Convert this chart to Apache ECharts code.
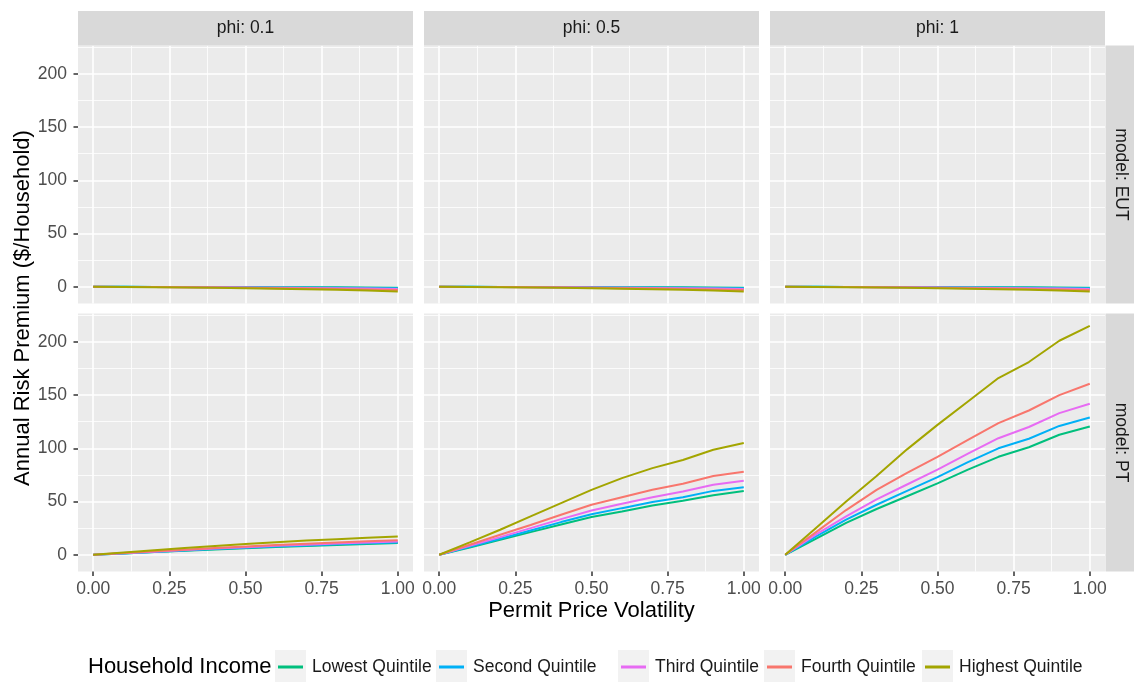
<!DOCTYPE html>
<html>
<head>
<meta charset="utf-8">
<script src="https://cdn.jsdelivr.net/npm/echarts@6/dist/echarts.min.js"></script>
<style>
html,body{margin:0;padding:0;background:#fff;}
#chart{width:1134px;height:682px;}
</style>
</head>
<body>
<div id="chart"></div>
<script>
// ---------------- data ----------------
const xVals = [0, 0.1, 0.2, 0.3, 0.4, 0.5, 0.6, 0.7, 0.8, 0.9, 1.0];
const quintiles = ['Lowest Quintile', 'Second Quintile', 'Third Quintile', 'Fourth Quintile', 'Highest Quintile'];
const phiLabels = ['phi: 0.1', 'phi: 0.5', 'phi: 1'];
const modelLabels = ['model: EUT', 'model: PT'];
const xTickValues = [0, 0.25, 0.5, 0.75, 1];
const xMinorValues = [0.125, 0.375, 0.625, 0.875];
const yTickValues = [0, 50, 100, 150, 200];
const yMinorValues = [25, 75, 125, 175, 225];

// EUT (same for all phi)
const eutLowest  = [0, -0.05, -0.1, -0.15, -0.2, -0.3, -0.35, -0.45, -0.55, -0.65, -0.8];
const eutSecond  = [0, -0.05, -0.15, -0.25, -0.35, -0.45, -0.6, -0.75, -0.9, -1.1, -1.3];
const eutThird   = [0, -0.1, -0.2, -0.35, -0.5, -0.65, -0.85, -1.1, -1.35, -1.65, -2.0];
const eutFourth  = [0, -0.15, -0.3, -0.5, -0.7, -1.0, -1.3, -1.6, -2.0, -2.5, -3.0];
const eutHighest = [0, -0.2, -0.4, -0.7, -1.0, -1.4, -1.8, -2.3, -2.9, -3.6, -4.5];

// PT, phi = 0.1
const ptPhi01Lowest  = [0, 1.2, 2.5, 3.8, 5.0, 6.2, 7.3, 8.3, 9.3, 10.2, 11.0];
const ptPhi01Second  = [0, 1.3, 2.7, 4.1, 5.4, 6.6, 7.8, 8.8, 9.8, 10.8, 11.6];
const ptPhi01Third   = [0, 1.4, 2.9, 4.4, 5.8, 7.1, 8.4, 9.5, 10.6, 11.6, 12.5];
const ptPhi01Fourth  = [0, 1.6, 3.2, 4.8, 6.3, 7.8, 9.1, 10.3, 11.5, 12.6, 13.7];
const ptPhi01Highest = [0, 2.1, 4.2, 6.3, 8.3, 10.2, 11.8, 13.3, 14.6, 15.9, 17.2];

// PT, phi = 0.5
const ptPhi05Lowest  = [0, 6.9, 14, 21.3, 28.5, 35.4, 40.7, 46.3, 50.7, 56, 60];
const ptPhi05Second  = [0, 7.5, 15, 22.8, 30.7, 38, 43.8, 49.5, 54, 60, 63.5];
const ptPhi05Third   = [0, 8.4, 16.6, 25, 33.5, 41.6, 48, 54, 59.5, 65.7, 69.5];
const ptPhi05Fourth  = [0, 9.4, 18.8, 28, 37.6, 47, 54, 61, 66.7, 74, 78];
const ptPhi05Highest = [0, 11.6, 23.5, 36, 48.5, 61, 72, 81.4, 89, 98.6, 104.9];

// PT, phi = 1
const ptPhi1Lowest  = [0, 15, 30, 43, 55, 67, 80, 92, 101, 112.7, 120.5];
const ptPhi1Second  = [0, 17, 33, 47, 60, 73, 87, 100, 109, 121, 129];
const ptPhi1Third   = [0, 19, 36, 52, 66, 80, 95, 109.5, 120, 133, 141.8];
const ptPhi1Fourth  = [0, 21, 42, 61, 77, 92, 108, 123.6, 135.5, 150, 160.6];
const ptPhi1Highest = [0, 25, 50, 74, 99, 122, 144, 166, 181, 201, 215];

// facets: [row][col] -> arrays in quintile order
const facetData = [
  [
    [eutLowest, eutSecond, eutThird, eutFourth, eutHighest],
    [eutLowest, eutSecond, eutThird, eutFourth, eutHighest],
    [eutLowest, eutSecond, eutThird, eutFourth, eutHighest]
  ],
  [
    [ptPhi01Lowest, ptPhi01Second, ptPhi01Third, ptPhi01Fourth, ptPhi01Highest],
    [ptPhi05Lowest, ptPhi05Second, ptPhi05Third, ptPhi05Fourth, ptPhi05Highest],
    [ptPhi1Lowest, ptPhi1Second, ptPhi1Third, ptPhi1Fourth, ptPhi1Highest]
  ]
];

// ---------------- styling / layout ----------------
const colors = ['#00BF7D', '#00B0F6', '#E76BF3', '#F8766D', '#A3A500'];
const FONT = "'Liberation Sans', Arial, Helvetica, sans-serif";
const colLeft = [78, 424, 770];
const rowTop = [45.5, 313.5];
const panelW = 335, panelH = 258;
const xMin = -0.05, xMax = 1.05;
const yMin = -15.7, yMax = 226.6;

const grids = [], xAxes = [], yAxes = [], series = [];
let gi = 0;
for (let r = 0; r < 2; r++) {
  for (let c = 0; c < 3; c++) {
    grids.push({
      left: colLeft[c], top: rowTop[r], width: panelW, height: panelH,
      show: true, backgroundColor: '#EBEBEB', borderWidth: 0, containLabel: false
    });
    // major x
    xAxes.push({
      type: 'value', gridIndex: gi, min: xMin, max: xMax, position: 'bottom',
      axisLine: { show: false, onZero: false },
      axisTick: { show: r === 1, customValues: xTickValues, length: 4.5, lineStyle: { color: '#333333', width: 1.5 } },
      axisLabel: { show: r === 1, customValues: xTickValues, formatter: v => v.toFixed(2), margin: 9,
                   color: '#4D4D4D', fontSize: 17.5, fontFamily: FONT },
      splitLine: { show: true, lineStyle: { color: '#FFFFFF', width: 1.6 } }
    });
    // minor x
    xAxes.push({
      type: 'value', gridIndex: gi, min: xMin, max: xMax, position: 'top',
      axisLine: { show: false, onZero: false },
      axisTick: { show: false, customValues: xMinorValues },
      axisLabel: { show: false, customValues: xMinorValues },
      splitLine: { show: true, lineStyle: { color: '#FFFFFF', width: 0.8 } }
    });
    // major y
    yAxes.push({
      type: 'value', gridIndex: gi, min: yMin, max: yMax, position: 'left',
      axisLine: { show: false, onZero: false },
      axisTick: { show: c === 0, customValues: yTickValues, length: 4.5, lineStyle: { color: '#333333', width: 1.5 } },
      axisLabel: { show: c === 0, customValues: yTickValues, margin: 11, color: '#4D4D4D', fontSize: 17.5, fontFamily: FONT },
      splitLine: { show: true, lineStyle: { color: '#FFFFFF', width: 1.6 } }
    });
    // minor y
    yAxes.push({
      type: 'value', gridIndex: gi, min: yMin, max: yMax, position: 'right',
      axisLine: { show: false, onZero: false },
      axisTick: { show: false, customValues: yMinorValues },
      axisLabel: { show: false, customValues: yMinorValues },
      splitLine: { show: true, lineStyle: { color: '#FFFFFF', width: 0.8 } }
    });
    const arrs = facetData[r][c];
    for (let q = 0; q < quintiles.length; q++) {
      series.push({
        type: 'line', name: quintiles[q], xAxisIndex: 2 * gi, yAxisIndex: 2 * gi,
        data: xVals.map((x, k) => [x, arrs[q][k]]),
        symbol: 'none', showSymbol: false,
        lineStyle: { width: 2, color: colors[q] },
        itemStyle: { color: colors[q] },
        emphasis: { disabled: true }, z: 3
      });
    }
    gi++;
  }
}

// legends (one per key, positioned as in the reference)
const keyBoxLeft = [275, 436, 618, 764, 922];
const legends = quintiles.map((q, k) => ({
  data: [q], left: keyBoxLeft[k] + 3, top: 657, orient: 'horizontal',
  icon: 'rect', itemWidth: 25, itemHeight: 3, padding: 0, selectedMode: false, z: 10,
  textStyle: { fontSize: 17.5, color: '#1A1A1A', fontFamily: FONT, padding: [0, 0, 0, 4], lineHeight: 20 }
}));

// graphics: strips, titles, legend key backgrounds
const graphics = [];
for (let c = 0; c < 3; c++) {
  graphics.push({ type: 'rect', z: 1, shape: { x: colLeft[c], y: 11, width: panelW, height: 34.5 }, style: { fill: '#D9D9D9' } });
  graphics.push({ type: 'text', z: 2, x: colLeft[c] + panelW / 2, y: 28.5,
    style: { text: phiLabels[c], fill: '#1A1A1A', font: '17.5px ' + FONT, align: 'center', verticalAlign: 'middle' } });
}
for (let r = 0; r < 2; r++) {
  graphics.push({ type: 'rect', z: 1, shape: { x: 1105.5, y: rowTop[r], width: 34, height: panelH }, style: { fill: '#D9D9D9' } });
  graphics.push({ type: 'text', z: 2, x: 1121, y: rowTop[r] + panelH / 2, rotation: -Math.PI / 2,
    style: { text: modelLabels[r], fill: '#1A1A1A', font: '17.5px ' + FONT, align: 'center', verticalAlign: 'middle' } });
}
graphics.push({ type: 'text', z: 2, x: 23, y: 308, rotation: Math.PI / 2,
  style: { text: 'Annual Risk Premium ($/Household)', fill: '#000000', font: '22px ' + FONT, align: 'center', verticalAlign: 'middle' } });
graphics.push({ type: 'text', z: 2, x: 591.5, y: 611,
  style: { text: 'Permit Price Volatility', fill: '#000000', font: '22px ' + FONT, align: 'center', verticalAlign: 'middle' } });
graphics.push({ type: 'text', z: 2, x: 88, y: 667,
  style: { text: 'Household Income', fill: '#000000', font: '22px ' + FONT, align: 'left', verticalAlign: 'middle' } });
keyBoxLeft.forEach(x => {
  graphics.push({ type: 'rect', z: 1, shape: { x: x, y: 650, width: 31, height: 34 }, style: { fill: '#F2F2F2' } });
});

const chart = echarts.init(document.getElementById('chart'), null, { renderer: 'canvas' });
chart.setOption({
  backgroundColor: '#FFFFFF',
  animation: false,
  textStyle: { fontFamily: FONT },
  grid: grids,
  xAxis: xAxes,
  yAxis: yAxes,
  legend: legends,
  graphic: graphics,
  series: series
});
</script>
</body>
</html>
